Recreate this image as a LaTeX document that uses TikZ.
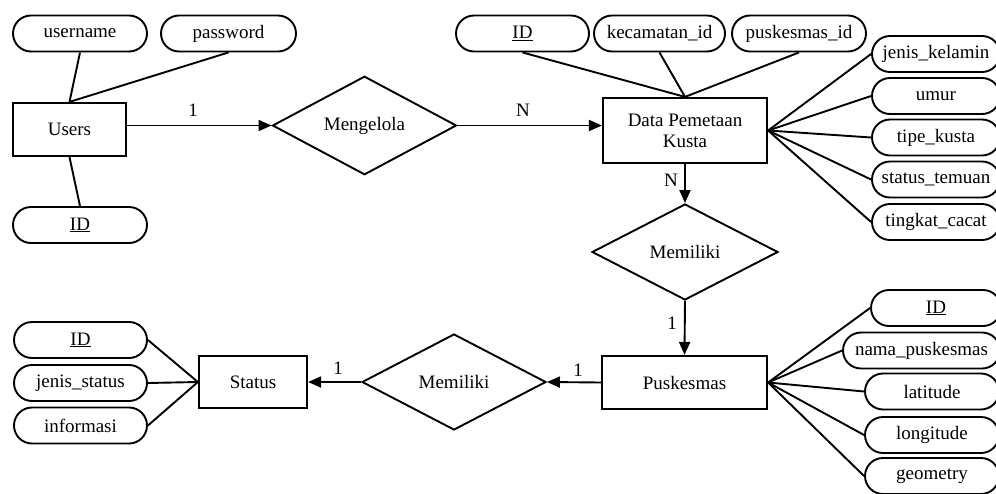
\documentclass[tikz,border=0pt]{standalone}
\usepackage{fontspec}
\setmainfont{Liberation Serif}
\usetikzlibrary{shapes.geometric,arrows.meta}
\begin{document}
\begin{tikzpicture}[x=1pt,y=-1pt,
  every node/.style={font=\fontsize{19}{21}\selectfont},
  ent/.style={draw, line width=2.2pt, rectangle, inner sep=2pt, align=center},
  attr/.style={draw, line width=1.9pt, rectangle, rounded corners=18pt, minimum height=36pt, inner sep=0pt},
  rel/.style={draw, line width=1.9pt, diamond, minimum width=184pt, minimum height=96pt, inner sep=0pt},
  conn/.style={line width=1.9pt},
  arr/.style={conn, -{Triangle[length=13pt,width=11pt]}},
  card/.style={inner sep=0pt}]
\useasboundingbox (0,0) rectangle (996,493);
\clip (0,0) rectangle (996,493);

% entities
\node[ent, minimum width=113pt, minimum height=53pt] (users) at (69.5,129.5) {Users};
\node[ent, minimum width=164pt, minimum height=65pt] (data) at (685,130.5) {Data Pemetaan\\Kusta};
\node[ent, minimum width=165pt, minimum height=53pt] (pusk) at (684.5,382.5) {Puskesmas};
\node[ent, minimum width=108pt, minimum height=52pt] (status) at (253,382) {Status};

% relations
\node[rel] (rmeng) at (364.5,125.5) {Mengelola};
\node[rel, minimum width=186pt] (rmem1) at (685,252) {Memiliki};
\node[rel] (rmem2) at (454,382) {Memiliki};

% attributes of Users
\node[attr, minimum width=134pt] (uuser) at (80,33.5) {username};
\node[attr, minimum width=135pt] (upass) at (228.5,33.5) {password};
\node[attr, minimum width=134pt] (uid) at (80,225) {\underline{ID}};

% attributes of Data Pemetaan Kusta
\node[attr, minimum width=133pt] (did) at (522.5,33.5) {\underline{ID}};
\node[attr, minimum width=131pt] (dkec) at (659.5,33.5) {kecamatan\_id};
\node[attr, minimum width=134pt] (dpid) at (799,33.5) {puskesmas\_id};
\node[attr, minimum width=128pt] (djk) at (936,54) {jenis\_kelamin};
\node[attr, minimum width=128pt] (dumur) at (936,96) {umur};
\node[attr, minimum width=128pt] (dtipe) at (936,137.5) {tipe\_kusta};
\node[attr, minimum width=128pt] (dstat) at (936,179.5) {status\_temuan};
\node[attr, minimum width=128pt] (dting) at (936,222) {tingkat\_cacat};

% attributes of Puskesmas
\node[attr, minimum width=130pt] (pid) at (936,308) {\underline{ID}};
\node[attr, minimum width=157pt] (pnama) at (921.5,350.5) {nama\_puskesmas};
\node[attr, minimum width=134pt] (plat) at (932,391.5) {latitude};
\node[attr, minimum width=134pt] (plon) at (932,435) {longitude};
\node[attr, minimum width=134pt] (pgeo) at (932,476) {geometry};

% attributes of Status
\node[attr, minimum width=133pt] (sid) at (80.5,340) {\underline{ID}};
\node[attr, minimum width=133pt] (sjenis) at (80.5,383) {jenis\_status};
\node[attr, minimum width=133pt] (sinfo) at (80.5,425.5) {informasi};

% attribute connectors
\draw[conn] (uuser.south) -- (users.north);
\draw[conn] (upass.south) -- (users.north);
\draw[conn] (users.south) -- (uid.north);

\draw[conn] (did.south) -- (data.north);
\draw[conn] (dkec.south) -- (data.north);
\draw[conn] (dpid.south) -- (data.north);
\foreach \a in {djk,dumur,dtipe,dstat,dting}
  \draw[conn] (data.east) -- (\a.west);

\foreach \a in {pid,pnama,plat,plon,pgeo}
  \draw[conn] (pusk.east) -- (\a.west);

\foreach \a in {sid,sjenis,sinfo}
  \draw[conn] (\a.east) -- (status.west);

% relationship connectors
\draw[arr] (rmeng.west -| users.east) -- (rmeng.west);
\draw[arr] (rmeng.east) -- (rmeng.east -| data.west);
\draw[arr] (data.south) -- (rmem1.north);
\draw[arr] (rmem1.south) -- (pusk.north);
\draw[arr] (pusk.west) -- (rmem2.east);
\draw[arr] (rmem2.west) -- (status.east);

% cardinalities
\node[card] (c1) at (193,110.5) {1};
\node[card] (c2) at (523,110) {N};
\node[card] (c3) at (671,180) {N};
\node[card] (c4) at (672,323) {1};
\node[card] (c5) at (578,370) {1};
\node[card] (c6) at (338,368) {1};
\end{tikzpicture}
\end{document}
